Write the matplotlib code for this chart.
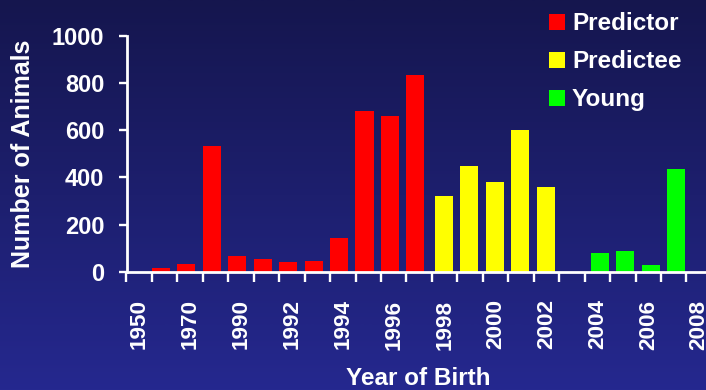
import numpy as np
import matplotlib
matplotlib.use("Agg")
import matplotlib.pyplot as plt
from matplotlib.colors import LinearSegmentedColormap
from matplotlib.patches import Rectangle

# Birth-year categories along the x axis
years = ["1950", "1960", "1970", "1980", "1990", "1991", "1992", "1993",
         "1994", "1995", "1996", "1997", "1998", "1999", "2000", "2001",
         "2002", "2003", "2004", "2005", "2006", "2007", "2008"]

# Animal counts per group
predictor_years = ["1960", "1970", "1980", "1990", "1991", "1992", "1993",
                   "1994", "1995", "1996", "1997"]
predictor_counts = [15, 32, 533, 66, 54, 41, 45, 143, 682, 660, 834]

predictee_years = ["1998", "1999", "2000", "2001", "2002"]
predictee_counts = [321, 448, 380, 601, 359]

young_years = ["2004", "2005", "2006", "2007"]
young_counts = [79, 88, 28, 436]

y_ticks = [0, 200, 400, 600, 800, 1000]

W, H = 706, 390
fig = plt.figure(figsize=(W / 100, H / 100), dpi=100)

# Vertical navy gradient behind everything
bg = fig.add_axes([0, 0, 1, 1], zorder=-10)
cmap = LinearSegmentedColormap.from_list("navy", ["#25288f", "#1d1f6e", "#15164e"])
grad = np.linspace(0, 1, 256).reshape(-1, 1)
bg.imshow(grad, aspect="auto", cmap=cmap, origin="lower", extent=[0, 1, 0, 1])
bg.set_axis_off()

FONT = "Liberation Sans"
WHITE = "white"

left_px, right_px = 126.5, 711.9
bottom_px, top_px = 271.7, 36.0
ax = fig.add_axes([left_px / W, 1 - bottom_px / H,
                   (right_px - left_px) / W, (bottom_px - top_px) / H])
ax.patch.set_alpha(0)

series = [
    ("Predictor", predictor_years, predictor_counts, "#ff0000", -0.15),
    ("Predictee", predictee_years, predictee_counts, "#ffff00", -0.035),
    ("Young", young_years, young_counts, "#00ff00", 0.09),
]
for name, yrs, vals, color, shift in series:
    xs = [years.index(y) + shift for y in yrs]
    ax.bar(xs, vals, width=0.71, color=color, linewidth=0, label=name, zorder=2)

ax.set_xlim(-0.5, len(years) - 0.5)
ax.set_ylim(0, 1000)

for s in ("top", "right"):
    ax.spines[s].set_visible(False)
for s in ("left", "bottom"):
    ax.spines[s].set_color(WHITE)
    ax.spines[s].set_linewidth(2)
    ax.spines[s].set_zorder(3)

# Tick marks sit between categories; labels on every other category
ax.set_xticks(np.arange(len(years) + 1) - 0.5)
ax.set_xticklabels([])
ax.tick_params(axis="x", which="major", direction="out", length=7,
               width=1.7, color=WHITE)
centers = np.arange(0, len(years), 2)
ax.set_xticks(centers, minor=True)
ax.set_xticklabels([years[i] for i in centers], minor=True, rotation=90,
                   fontsize=16.2, fontweight="bold", family=FONT, color=WHITE)
ax.tick_params(axis="x", which="minor", length=0, pad=20)

ax.set_yticks(y_ticks)
ax.set_yticklabels([str(v) for v in y_ticks], fontsize=17, fontweight="bold",
                   family=FONT, color=WHITE)
ax.tick_params(axis="y", direction="out", length=6, width=1.7, color=WHITE, pad=10)

fig.text(23 / W, 1 - 154 / H, "Number of Animals", rotation=90, ha="center",
         va="center", fontsize=18, fontweight="bold", family=FONT, color=WHITE)
fig.text(418.7 / W, 1 - 385 / H, "Year of Birth", ha="center", va="baseline",
         fontsize=17.5, fontweight="bold", family=FONT, color=WHITE)

# Legend drawn as coloured squares with labels
for i, (name, _, _, color, _) in enumerate(series):
    cy = 22 + 38 * i
    fig.patches.append(Rectangle((549 / W, 1 - (cy + 8) / H), 16 / W, 16 / H,
                                 transform=fig.transFigure, facecolor=color,
                                 edgecolor="none"))
    fig.text(572 / W, 1 - (cy + 8.5) / H, name, ha="left", va="baseline",
             fontsize=17.5, fontweight="bold", family=FONT, color=WHITE)

fig.savefig("out.png", dpi=100)
